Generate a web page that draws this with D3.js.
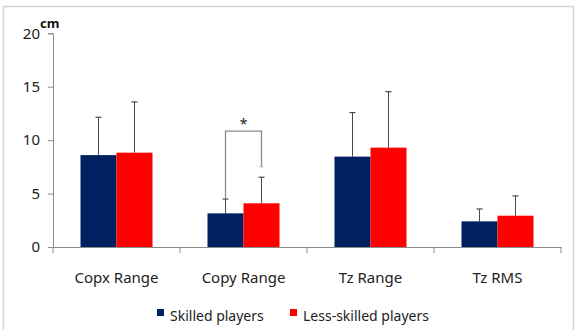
<!DOCTYPE html>
<html>
<head>
<meta charset="utf-8">
<script src="https://cdn.jsdelivr.net/npm/d3@7"></script>
<style>
  html, body { margin: 0; padding: 0; background: #fff; }
  svg { display: block; font-family: "Noto Sans", "Open Sans", sans-serif; }
</style>
</head>
<body>
<svg id="chart" width="575" height="330"></svg>
<script>
// Measures compared between the two groups
const categories = ["Copx Range", "Copy Range", "Tz Range", "Tz RMS"];
const seriesNames = ["Skilled players", "Less-skilled players"];
const skilledMean = [8.6, 3.15, 8.46, 2.4];
const skilledSD = [3.54, 1.34, 4.12, 1.16];
const lessMean = [8.83, 4.09, 9.3, 2.93];
const lessSD = [4.75, 2.44, 5.24, 1.85];
const yTicks = [0, 5, 10, 15, 20];
const colors = ["#002060", "#ff0000"];

const svg = d3.select("#chart");

// outer frame
svg.append("rect")
  .attr("x", 3.5).attr("y", 6.5)
  .attr("width", 570).attr("height", 330)
  .attr("fill", "none").attr("stroke", "#d4d4d4").attr("stroke-width", 1.5);

const x = d3.scaleBand().domain(categories).range([53, 561]).paddingInner(0).paddingOuter(0);
const xs = d3.scaleBand().domain([0, 1]).range([0, 72]);
const y = d3.scaleLinear().domain([0, 20]).range([247, 33.3]);

const data = categories.map((c, i) => ({
  cat: c,
  vals: [
    { s: 0, m: skilledMean[i], sd: skilledSD[i] },
    { s: 1, m: lessMean[i], sd: lessSD[i] }
  ]
}));

const groupOffset = (x.bandwidth() - 72) / 2;

// error bars (upper whisker only) drawn behind the bars
const eg = svg.append("g");
data.forEach(d => {
  d.vals.forEach(v => {
    const cx = x(d.cat) + groupOffset + xs(v.s) + xs.bandwidth() / 2;
    eg.append("line")
      .attr("x1", cx).attr("x2", cx)
      .attr("y1", y(v.m)).attr("y2", y(v.m + v.sd))
      .attr("stroke", "#4a4a4a").attr("stroke-width", 1);
    eg.append("line")
      .attr("x1", cx - 3).attr("x2", cx + 3)
      .attr("y1", y(v.m + v.sd)).attr("y2", y(v.m + v.sd))
      .attr("stroke", "#4a4a4a").attr("stroke-width", 1.2);
  });
});

// bars
const bg = svg.append("g");
data.forEach(d => {
  bg.selectAll(null).data(d.vals).enter().append("rect")
    .attr("x", v => x(d.cat) + groupOffset + xs(v.s))
    .attr("y", v => y(v.m))
    .attr("width", xs.bandwidth())
    .attr("height", v => y(0) - y(v.m))
    .attr("fill", v => colors[v.s]);
});

// y axis
const yAxis = svg.append("g").attr("transform", "translate(53,0)")
  .call(d3.axisLeft(y).tickValues(yTicks).tickSize(5).tickPadding(8));
yAxis.select(".domain").attr("stroke", "#8c8c8c");
yAxis.selectAll(".tick line").attr("stroke", "#8c8c8c");
yAxis.selectAll(".tick text")
  .attr("font-size", 15).attr("fill", "#222")
  .attr("font-family", "Noto Sans, sans-serif");

// x axis
const xAxis = svg.append("g").attr("transform", "translate(0,247)")
  .call(d3.axisBottom(x).tickSize(0).tickPadding(25).tickSizeOuter(0));
xAxis.select(".domain").attr("stroke", "#8c8c8c");
xAxis.selectAll(".tick text")
  .attr("font-size", 15).attr("fill", "#222")
  .attr("font-family", "Noto Sans, sans-serif");
// category separator ticks
const bounds = categories.map(c => x(c)).concat([x.range()[1]]);
svg.append("g").selectAll("line").data(bounds).enter().append("line")
  .attr("x1", d => d).attr("x2", d => d)
  .attr("y1", 247).attr("y2", 253)
  .attr("stroke", "#8c8c8c");

// unit label
svg.append("text")
  .attr("x", 40).attr("y", 28)
  .attr("font-size", 13).attr("font-weight", "bold").attr("fill", "#111")
  .text("cm");

// significance bracket on Copy Range
const ci = 1;
const bx0 = x(categories[ci]) + groupOffset + xs(0) + xs.bandwidth() / 2;
const bx1 = x(categories[ci]) + groupOffset + xs(1) + xs.bandwidth() / 2;
const bracketTop = 10.85;
svg.append("path")
  .attr("d", `M${bx0},${y(skilledMean[ci] + skilledSD[ci])} V${y(bracketTop)} H${bx1} V${y(7.5)}`)
  .attr("fill", "none").attr("stroke", "#8c8c8c").attr("stroke-width", 1.3);
svg.append("line")
  .attr("x1", bx1 - 2).attr("x2", bx1 + 2)
  .attr("y1", y(7.5)).attr("y2", y(7.5))
  .attr("stroke", "#bbb");
svg.append("text")
  .attr("x", (bx0 + bx1) / 2).attr("y", y(bracketTop) - 2)
  .attr("text-anchor", "middle").attr("font-size", 14).attr("fill", "#222")
  .text("*");

// legend
const legend = svg.append("g");
const legendX = [157, 290];
seriesNames.forEach((n, i) => {
  legend.append("rect")
    .attr("x", legendX[i]).attr("y", 309)
    .attr("width", 7).attr("height", 7)
    .attr("fill", colors[i]);
  legend.append("text")
    .attr("x", legendX[i] + 13).attr("y", 321)
    .attr("font-size", 14).attr("fill", "#222")
    .text(n);
});
</script>
</body>
</html>
